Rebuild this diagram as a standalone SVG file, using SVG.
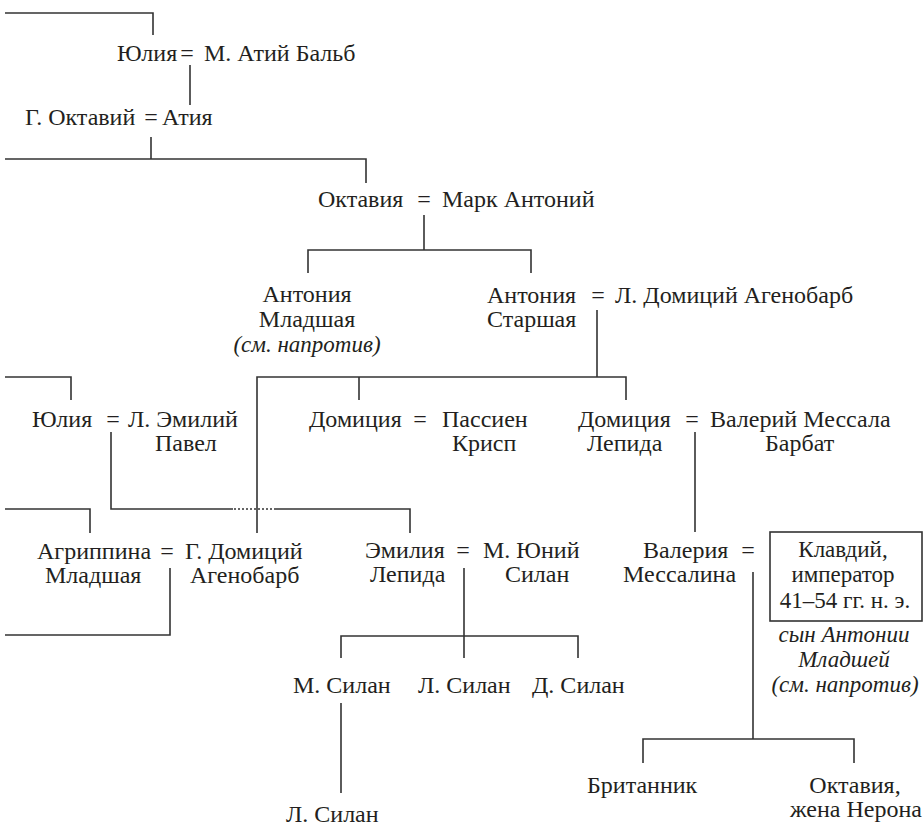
<svg xmlns="http://www.w3.org/2000/svg" width="924" height="828" viewBox="0 0 924 828" font-family="'Liberation Serif', serif" font-size="24">
<style>
.t{fill:#231f20}
.m{text-anchor:middle}
.b{font-size:23px}
.i{font-style:italic;font-size:23px}
.c{stroke:#333;stroke-width:1.6;fill:none}
.d{stroke:#333;stroke-width:1.6;fill:none;stroke-dasharray:2 2}
</style>
<rect width="924" height="828" fill="#fff"/>
<g id="connectors">
<path class="c" d="M5 13H153V35"/>
<path class="c" d="M190 65V105"/>
<path class="c" d="M151 137V159"/>
<path class="c" d="M5 159H366V183"/>
<path class="c" d="M424 215V250"/>
<path class="c" d="M308 273V250H531V273"/>
<path class="c" d="M597 310V377"/>
<path class="c" d="M257 533V377H626V400"/>
<path class="c" d="M359 377V400"/>
<path class="c" d="M5 377H71V400"/>
<path class="c" d="M111 432V509H233"/>
<path class="d" d="M234 509H275"/>
<path class="c" d="M275 509H410V533"/>
<path class="c" d="M5 509H90V533"/>
<path class="c" d="M695 432V532"/>
<path class="c" d="M170 568V635H5"/>
<path class="c" d="M464 568V658"/>
<path class="c" d="M341 658V636H578V658"/>
<path class="c" d="M341 703V793"/>
<path class="c" d="M753 572V739"/>
<path class="c" d="M643 763V739H854V763"/>
</g>
<g id="n-julia-balb">
<text class="t" x="117" y="61">Юлия</text>
<text class="t m" x="187" y="61">=</text>
<text class="t" x="204" y="61">М. Атий Бальб</text>
</g>
<g id="n-octavius-atia">
<text class="t" x="25" y="125">Г. Октавий</text>
<text class="t m" x="151" y="125">=</text>
<text class="t" x="162" y="125">Атия</text>
</g>
<g id="n-octavia-antonius">
<text class="t" x="318" y="207">Октавия</text>
<text class="t m" x="424" y="207">=</text>
<text class="t" x="442" y="207">Марк Антоний</text>
</g>
<g id="n-antonia-minor">
<text class="t m" x="307" y="302">Антония</text>
<text class="t m" x="307" y="327">Младшая</text>
<text class="t m i" x="307" y="352">(см. напротив)</text>
</g>
<g id="n-antonia-maior">
<text class="t" x="487" y="303">Антония</text>
<text class="t" x="487" y="327">Старшая</text>
<text class="t m" x="598" y="303">=</text>
<text class="t" x="615" y="303">Л. Домиций Агенобарб</text>
</g>
<g id="n-julia-paullus">
<text class="t" x="32" y="427">Юлия</text>
<text class="t m" x="113" y="427">=</text>
<text class="t" x="128" y="427">Л. Эмилий</text>
<text class="t" x="155" y="451">Павел</text>
</g>
<g id="n-domitia-crispus">
<text class="t" x="309" y="427">Домиция</text>
<text class="t m" x="420" y="427">=</text>
<text class="t" x="442" y="427">Пассиен</text>
<text class="t" x="452" y="451">Крисп</text>
</g>
<g id="n-domitia-lepida">
<text class="t" x="578" y="427">Домиция</text>
<text class="t" x="587" y="451">Лепида</text>
<text class="t m" x="692" y="427">=</text>
<text class="t" x="710" y="427">Валерий Мессала</text>
<text class="t" x="765" y="451">Барбат</text>
</g>
<g id="n-agrippina">
<text class="t" x="37" y="559">Агриппина</text>
<text class="t" x="45" y="583">Младшая</text>
<text class="t m" x="167" y="559">=</text>
<text class="t" x="185" y="559">Г. Домиций</text>
<text class="t" x="190" y="583">Агенобарб</text>
</g>
<g id="n-aemilia">
<text class="t" x="365" y="558">Эмилия</text>
<text class="t" x="370" y="582">Лепида</text>
<text class="t m" x="463" y="558">=</text>
<text class="t" x="483" y="558">М. Юний</text>
<text class="t" x="505" y="582">Силан</text>
</g>
<g id="n-messalina">
<text class="t" x="643" y="558">Валерия</text>
<text class="t" x="623" y="582">Мессалина</text>
<text class="t m" x="748" y="558">=</text>
</g>
<g id="n-claudius">
<rect x="770" y="532" width="152" height="89" fill="none" stroke="#333" stroke-width="1.6"/>
<text class="t m b" x="843" y="557">Клавдий,</text>
<text class="t m b" x="843" y="582">император</text>
<text class="t m b" x="845" y="608">41–54 гг. н. э.</text>
<text class="t m i" x="844" y="642">сын Антонии</text>
<text class="t m i" x="844" y="667">Младшей</text>
<text class="t m i" x="845" y="692">(см. напротив)</text>
</g>
<g id="n-m-silanus">
<text class="t" x="293" y="693">М. Силан</text>
</g>
<g id="n-l-silanus">
<text class="t" x="418" y="693">Л. Силан</text>
</g>
<g id="n-d-silanus">
<text class="t" x="532" y="693">Д. Силан</text>
</g>
<g id="n-l-silanus-2">
<text class="t" x="286" y="822">Л. Силан</text>
</g>
<g id="n-britannicus">
<text class="t" x="587" y="793">Британник</text>
</g>
<g id="n-octavia-nero">
<text class="t m" x="855" y="793">Октавия,</text>
<text class="t m" x="856" y="817">жена Нерона</text>
</g>
</svg>
